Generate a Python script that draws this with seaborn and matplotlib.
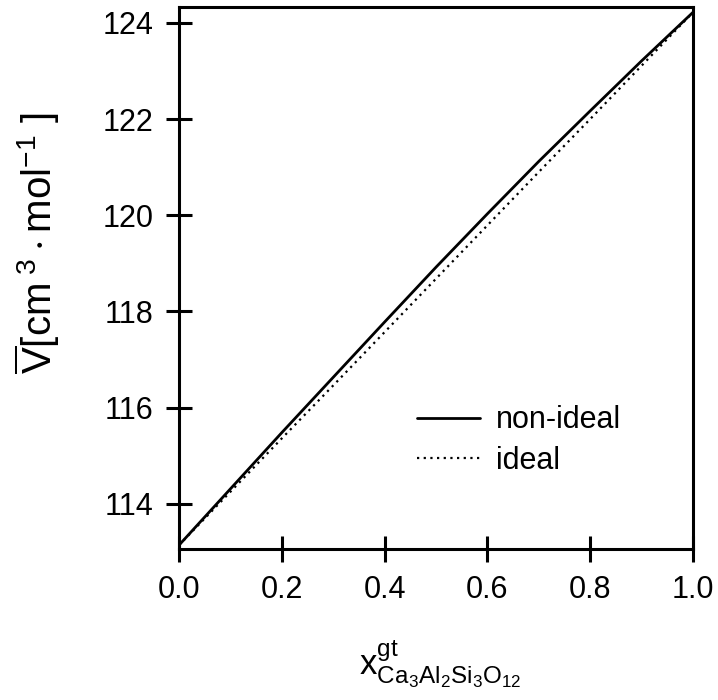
import pandas as pd
import matplotlib.pyplot as plt
import seaborn as sns

# -----------------------------
# Data
# -----------------------------
x_grs = [0.0, 0.1, 0.2, 0.3, 0.4, 0.5, 0.6, 0.7, 0.8, 0.9, 1.0]
v_nonideal = [113.14, 114.31, 115.48, 116.63, 117.78, 118.92,
              120.03, 121.12, 122.17, 123.21, 124.22]
v_ideal = [113.14, 114.25, 115.36, 116.46, 117.57, 118.68,
           119.79, 120.90, 122.00, 123.11, 124.22]

x_ticks = [0.0, 0.2, 0.4, 0.6, 0.8, 1.0]
y_ticks = [114, 116, 118, 120, 122, 124]

df = pd.DataFrame({"x": x_grs, "nonideal": v_nonideal, "ideal": v_ideal})

# Style
sns.set_style("ticks")
plt.rcParams["font.family"] = ["Liberation Sans", "DejaVu Sans"]
plt.rcParams["text.color"] = "black"
plt.rcParams["mathtext.fontset"] = "custom"
plt.rcParams["mathtext.rm"] = "Liberation Sans"
plt.rcParams["mathtext.it"] = "Liberation Sans"

fig = plt.figure(figsize=(7.18, 7.0), dpi=100)
ax = fig.add_axes([0.2493, 0.2157, 0.7159, 0.7743])

sns.lineplot(data=df, x="x", y="nonideal", ax=ax, color="black",
             linewidth=2.0, label="non-ideal")
sns.lineplot(data=df, x="x", y="ideal", ax=ax, color="black",
             linewidth=1.6, linestyle=(0, (1, 2)), label="ideal")

ax.set_xlim(0, 1)
ax.set_ylim(113.06, 124.33)
ax.set_xticks(x_ticks)
ax.set_xticklabels([f"{t:.1f}" for t in x_ticks])
ax.set_yticks(y_ticks)

for side in ["left", "right", "top", "bottom"]:
    ax.spines[side].set_visible(True)
    ax.spines[side].set_linewidth(2.2)
    ax.spines[side].set_color("black")

ax.tick_params(axis="both", direction="inout", length=19, width=2.2,
               labelsize=22, pad=9, colors="black", labelcolor="black")

ax.set_xlabel(r"$\mathregular{x^{gt}_{Ca_3Al_2Si_3O_{12}}}$", fontsize=25,
              color="black")
ax.xaxis.set_label_coords(0.508, -0.165)
ax.set_ylabel(r"$\mathregular{\overline{V}[cm^{\ 3}\cdot mol^{-1}\ ]}$",
              fontsize=29, color="black")
ax.yaxis.set_label_coords(-0.228, 0.565)

leg = ax.legend(loc="upper left", bbox_to_anchor=(0.463, 0.265),
                frameon=False, fontsize=22, handlelength=2.05,
                handletextpad=0.55, labelspacing=0.35, borderpad=0,
                borderaxespad=0)
for t in leg.get_texts():
    t.set_color("black")

plt.savefig("out.png", dpi=100)
plt.close()
